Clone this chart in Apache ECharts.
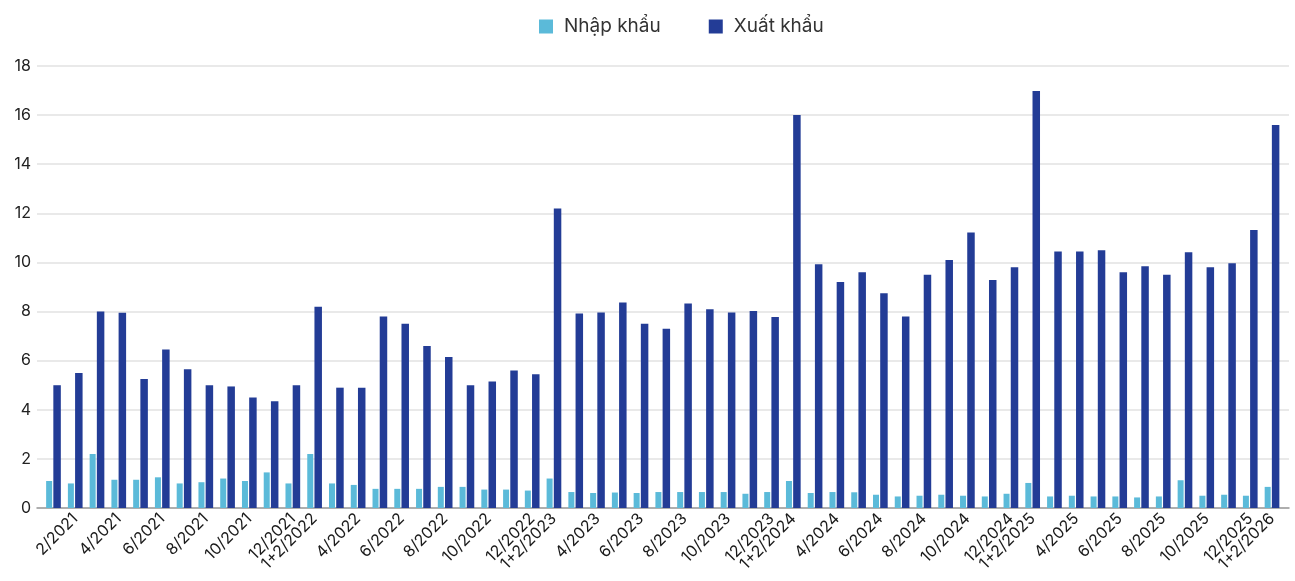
<!DOCTYPE html>
<html>
<head>
<meta charset="utf-8">
<script src="https://cdn.jsdelivr.net/npm/echarts@6/dist/echarts.min.js"></script>
<style>html,body{margin:0;padding:0;background:#fff}#c{width:1295px;height:581px}</style>
</head>
<body>
<div id="c"></div>
<script>
const categories = [
  '1/2021','2/2021','3/2021','4/2021','5/2021','6/2021','7/2021','8/2021','9/2021','10/2021','11/2021','12/2021',
  '1+2/2022','3/2022','4/2022','5/2022','6/2022','7/2022','8/2022','9/2022','10/2022','11/2022','12/2022',
  '1+2/2023','3/2023','4/2023','5/2023','6/2023','7/2023','8/2023','9/2023','10/2023','11/2023','12/2023',
  '1+2/2024','3/2024','4/2024','5/2024','6/2024','7/2024','8/2024','9/2024','10/2024','11/2024','12/2024',
  '1+2/2025','3/2025','4/2025','5/2025','6/2025','7/2025','8/2025','9/2025','10/2025','11/2025','12/2025',
  '1+2/2026'
];
const nhapKhau = [
  1.1, 1.0, 2.2, 1.15, 1.15, 1.25, 1.0, 1.05, 1.2, 1.1, 1.45, 1.0,
  2.2, 1.0, 0.94, 0.78, 0.78, 0.78, 0.86, 0.86, 0.75, 0.75, 0.71,
  1.2, 0.65, 0.61, 0.63, 0.61, 0.65, 0.65, 0.65, 0.65, 0.58, 0.65,
  1.1, 0.61, 0.65, 0.64, 0.54, 0.47, 0.5, 0.54, 0.5, 0.47, 0.58,
  1.02, 0.47, 0.5, 0.47, 0.47, 0.43, 0.47, 1.13, 0.5, 0.54, 0.5,
  0.86
];
const xuatKhau = [
  5.0, 5.5, 8.0, 7.95, 5.25, 6.45, 5.65, 5.0, 4.95, 4.5, 4.35, 5.0,
  8.2, 4.9, 4.9, 7.8, 7.5, 6.6, 6.15, 5.0, 5.15, 5.6, 5.45,
  12.2, 7.92, 7.96, 8.37, 7.5, 7.3, 8.33, 8.09, 7.96, 8.02, 7.78,
  16.0, 9.93, 9.2, 9.6, 8.75, 7.8, 9.5, 10.1, 11.22, 9.28, 9.8,
  16.98, 10.45, 10.45, 10.5, 9.6, 9.85, 9.5, 10.42, 9.8, 9.97, 11.32,
  15.6
];
const yTicks = { min: 0, max: 18, interval: 2 };

const chart = echarts.init(document.getElementById('c'), null, { renderer: 'canvas' });
const font = 'Inter, "Noto Sans", sans-serif';
const lastIdx = categories.length - 1;
function shown(i, v) {
  if (v.indexOf('1+2') === 0) return true;
  return parseInt(v.split('/')[0], 10) % 2 === 0;
}
const labelBase = { rotate: 45, margin: 8, fontSize: 16, color: '#1a1a1a', fontFamily: font };
chart.setOption({
  animation: false,
  backgroundColor: '#fff',
  legend: {
    top: 12, left: 534, itemGap: 48, itemWidth: 14, itemHeight: 14, icon: 'rect',
    textStyle: { fontSize: 19, color: '#333', fontFamily: font, padding: [0, 0, 0, 6] },
    data: ['Nhập khẩu', 'Xuất khẩu']
  },
  grid: [
    { left: 37, right: 6, top: 66, bottom: 73 },
    { left: 42.6, right: 12.1, top: 66, bottom: 73 }
  ],
  xAxis: [
    { gridIndex: 0, type: 'value', min: 0, max: 1, axisLabel: { show: false }, axisTick: { show: false },
      splitLine: { show: false }, axisLine: { show: true, lineStyle: { color: '#9a9a9a', width: 1.5 } } },
    { gridIndex: 1, type: 'category', data: categories, boundaryGap: true, position: 'bottom', offset: 0,
      axisLine: { show: false }, axisTick: { show: false },
      axisLabel: Object.assign({}, labelBase, {
        interval: function (i, v) { return i !== lastIdx && shown(i, v); }
      }) },
    { gridIndex: 1, type: 'category', data: categories, boundaryGap: true, position: 'bottom', offset: 0,
      axisLine: { show: false }, axisTick: { show: false }, splitLine: { show: false },
      axisLabel: Object.assign({}, labelBase, {
        showMaxLabel: true,
        interval: function (i) { return i === lastIdx; }
      }) }
  ],
  yAxis: [
    { gridIndex: 0, type: 'value', min: yTicks.min, max: yTicks.max, interval: yTicks.interval,
      axisLine: { show: false }, axisTick: { show: false },
      axisLabel: { fontSize: 16, color: '#222', fontFamily: font, margin: 6 },
      splitLine: { show: true, lineStyle: { color: '#e2e2e2', width: 1.5 } } },
    { gridIndex: 1, type: 'value', min: yTicks.min, max: yTicks.max, interval: yTicks.interval, show: false,
      splitLine: { show: false } }
  ],
  series: [
    { name: 'Nhập khẩu', type: 'bar', xAxisIndex: 1, yAxisIndex: 1, data: nhapKhau,
      barWidth: 6, barGap: '20%', itemStyle: { color: '#5bbad9' } },
    { name: 'Xuất khẩu', type: 'bar', xAxisIndex: 1, yAxisIndex: 1, data: xuatKhau,
      barWidth: 7.5, barGap: '20%', itemStyle: { color: '#233c96' } }
  ]
});
</script>
</body>
</html>
